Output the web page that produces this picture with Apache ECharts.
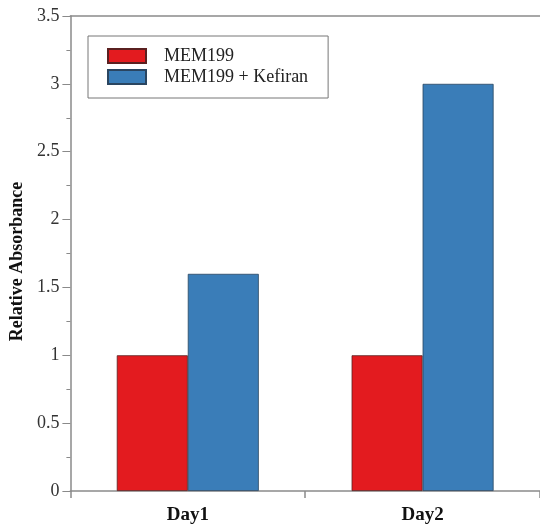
<!DOCTYPE html>
<html><head><meta charset="utf-8">
<script src="https://cdn.jsdelivr.net/npm/echarts@6/dist/echarts.min.js"></script>
<style>html,body{margin:0;padding:0;background:#fff}#c{width:540px;height:527px}</style>
</head><body><div id="c"></div>
<script>
const categories = ['Day1', 'Day2'];
const seriesNames = ['MEM199', 'MEM199 + Kefiran'];
const mem199 = [1, 1];
const mem199Kefiran = [1.6, 3.0];
const yTicks = [0, 0.5, 1, 1.5, 2, 2.5, 3, 3.5];

const serif = '"Liberation Serif", "DejaVu Serif", serif';
const axisGray = '#8a8a8a';
const chart = echarts.init(document.getElementById('c'));
chart.setOption({
  animation: false,
  grid: [
    { left: 68, width: 478, top: 16, bottom: 36 }
  ],
  legend: {
    orient: 'vertical', left: 88, top: 36,
    padding: [11, 20, 12, 19],
    itemWidth: 38, itemHeight: 14, itemGap: 3,
    borderColor: '#777', borderWidth: 1,
    icon: 'rect',
    textStyle: { fontFamily: serif, fontSize: 18, color: '#222', padding: [0, 0, 0, 13], lineHeight: 16 },
    data: seriesNames
  },
  xAxis: [
    {
      type: 'category', data: categories,
      axisLine: { show: true, lineStyle: { color: axisGray, width: 1.5 } },
      axisTick: { show: true, length: 7, lineStyle: { color: axisGray, width: 1.5 } },
      axisLabel: { fontFamily: serif, fontWeight: 'bold', fontSize: 19, color: '#111', margin: 15 }
    },
    {
      type: 'category', position: 'top', data: categories,
      axisLine: { show: true, lineStyle: { color: axisGray, width: 1.5 } },
      axisTick: { show: false }, axisLabel: { show: false }, splitLine: { show: false }
    }
  ],
  yAxis: [
    {
      type: 'value', min: 0, max: 3.5, interval: 0.5,
      name: 'Relative Absorbance', nameLocation: 'middle', nameGap: 42,
      nameTextStyle: { fontFamily: serif, fontWeight: 'bold', fontSize: 18, color: '#111', padding: [0, 0, 0, -16] },
      axisLine: { show: true, lineStyle: { color: axisGray, width: 1.5 } },
      axisTick: { show: true, inside: false, length: 8, lineStyle: { color: axisGray } },
      minorTick: { show: true, splitNumber: 2, length: 4, lineStyle: { color: axisGray } },
      splitLine: { show: false },
      axisLabel: {
        fontFamily: serif, fontSize: 18, color: '#333', margin: 11,
        formatter: v => yTicks.includes(v) ? String(v) : ''
      }
    }
  ],
  series: [
    {
      name: seriesNames[0], type: 'bar', xAxisIndex: 0, yAxisIndex: 0,
      data: mem199, barWidth: 71, barGap: '0%',
      itemStyle: { color: '#e31b1f', borderColor: '#5a2020', borderWidth: 0.8 }
    },
    {
      name: seriesNames[1], type: 'bar', xAxisIndex: 0, yAxisIndex: 0,
      data: mem199Kefiran, barWidth: 71, barGap: '0%',
      itemStyle: { color: '#3a7db8', borderColor: '#2a4560', borderWidth: 0.8 }
    }
  ]
});
</script></body></html>
